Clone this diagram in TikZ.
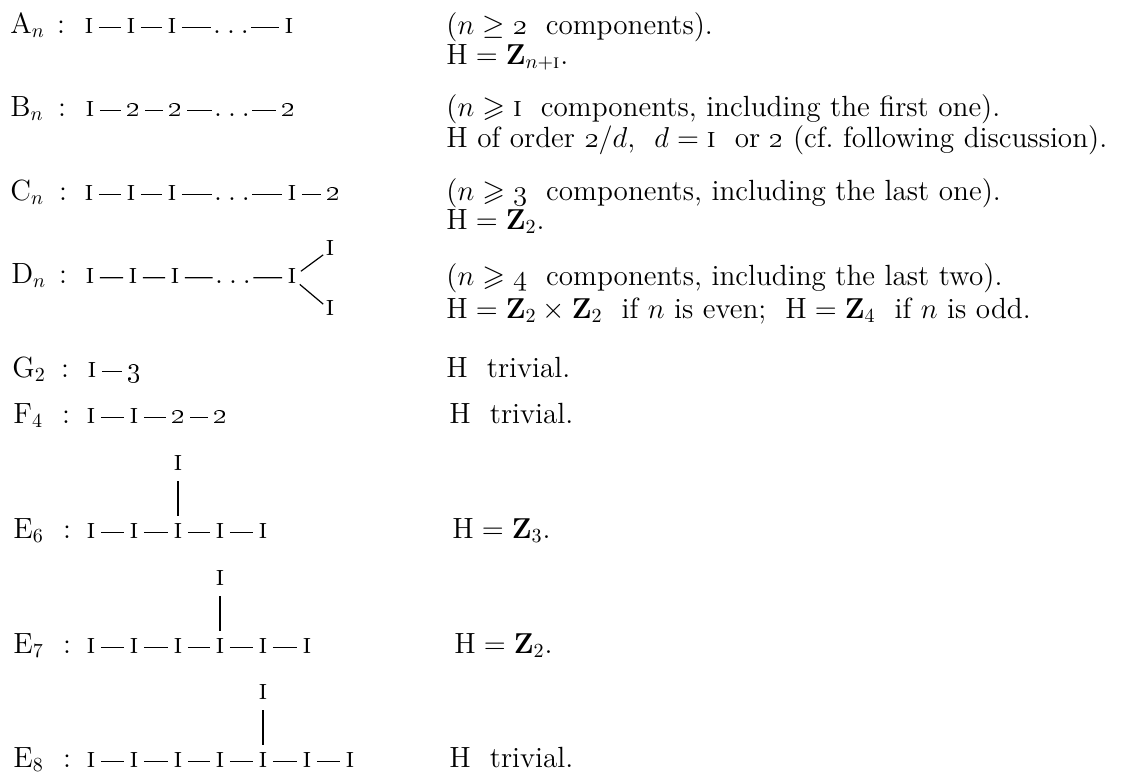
\documentclass[tikz,border=0pt]{standalone}
\usepackage{amsmath,amssymb}
\newcommand{\one}{\textsc{i}}
\newcommand{\onei}{\text{\textsc{i}}}
\newcommand{\osn}[1]{\oldstylenums{#1}}
\newcommand{\dts}{.\hspace{3pt}.\hspace{3pt}.}
\begin{document}
\begin{tikzpicture}[x=0.5pt,y=-0.5pt,
  font=\fontsize{14.6}{17}\selectfont,
  lab/.style={anchor=base west,inner sep=0pt},
  colon/.style={anchor=base,inner sep=0pt},
  txt/.style={anchor=base west,inner sep=0pt},
  vtx/.style={anchor=base,inner xsep=2.5pt,inner ysep=5.5pt,text height=1.2ex,text depth=0pt},
  vtxj/.style={vtx,inner ysep=0.5pt},
  vtxd/.style={vtx,inner ysep=0.5pt,inner xsep=1pt},
  dotsn/.style={vtx,inner xsep=1pt},
  edge/.style={line width=0.6pt}]
\useasboundingbox (0,0) rectangle (1125,778);

% ---------- A_n
\node[lab] (lA) at (10,33) {A$_n$};
\node[colon] (cA) at (61,33) {:};
\node[vtx] (a1) at (89,33) {\one};
\node[vtx] (a2) at (131,33) {\one};
\node[vtx] (a3) at (172,33) {\one};
\node[dotsn] (a4) at (231,33) {\dts};
\node[vtx] (a5) at (289,33) {\one};
\draw[edge] (a1)--(a2) (a2)--(a3) (a3)--(a4) (a4)--(a5);
\node[txt] (tA1) at (446,34) {($n\geq\osn{2}$\ \ components).};
\node[txt] (tA2) at (446,64) {H${}=\mathbf{Z}_{n+\onei}$.};

% ---------- B_n
\node[lab] (lB) at (10,116) {B$_n$};
\node[colon] (cB) at (62,116) {:};
\node[vtx] (b1) at (90,116) {\one};
\node[vtx] (b2) at (133,116) {\osn{2}};
\node[vtx] (b3) at (175,116) {\osn{2}};
\node[dotsn] (b4) at (232,116) {\dts};
\node[vtx] (b5) at (288,116) {\osn{2}};
\draw[edge] (b1)--(b2) (b2)--(b3) (b3)--(b4) (b4)--(b5);
\node[txt] (tB1) at (446,116) {($n\geqslant\onei$\ \ components, including the first one).};
\node[txt] (tB2) at (446,147) {H of order $\osn{2}/d$,\ \ $d=\onei$\ \ or \osn{2} (cf.\ following discussion).};

% ---------- C_n
\node[lab] (lC) at (10,200) {C$_n$};
\node[colon] (cC) at (63,200) {:};
\node[vtx] (c1) at (89,200) {\one};
\node[vtx] (c2) at (131,200) {\one};
\node[vtx] (c3) at (172,200) {\one};
\node[dotsn] (c4) at (232,200) {\dts};
\node[vtx] (c5) at (292,200) {\one};
\node[vtx] (c6) at (333,200) {\osn{2}};
\draw[edge] (c1)--(c2) (c2)--(c3) (c3)--(c4) (c4)--(c5) (c5)--(c6);
\node[txt] (tC1) at (446,200) {($n\geqslant\osn{3}$\ \ components, including the last one).};
\node[txt] (tC2) at (446,229) {H${}=\mathbf{Z}_2$.};

% ---------- D_n
\node[lab] (lD) at (11,283) {D$_n$};
\node[colon] (cD) at (63,283) {:};
\node[vtx] (d1) at (90,283) {\one};
\node[vtx] (d2) at (133,283) {\one};
\node[vtx] (d3) at (175,283) {\one};
\node[dotsn] (d4) at (233,283) {\dts};
\node[vtxj] (d5) at (292,283) {\one};
\node[vtxd] (du) at (330,255) {\one};
\node[vtxd] (dl) at (330,315) {\one};
\draw[edge] (d1)--(d2) (d2)--(d3) (d3)--(d4) (d4)--(d5) (d5)--(du) (d5)--(dl);
\node[txt] (tD1) at (446,285) {($n\geqslant\osn{4}$\ \ components, including the last two).};
\node[txt] (tD2) at (446,318) {H${}=\mathbf{Z}_2\times\mathbf{Z}_2$\ \ if $n$ is even;\ \ H${}=\mathbf{Z}_4$\ \ if $n$ is odd.};

% ---------- G_2
\node[lab] (lG) at (12,377) {G$_2$};
\node[colon] (cG) at (65,377) {:};
\node[vtx] (g1) at (92,377) {\one};
\node[vtx] (g2) at (134,377) {\osn{3}};
\draw[edge] (g1)--(g2);
\node[txt] (tG) at (446,377) {H\ \ trivial.};

% ---------- F_4
\node[lab] (lF) at (13,423) {F$_4$};
\node[colon] (cF) at (66,423) {:};
\node[vtx] (f1) at (91,423) {\one};
\node[vtx] (f2) at (134,423) {\one};
\node[vtx] (f3) at (178,423) {\osn{2}};
\node[vtx] (f4) at (220,423) {\osn{2}};
\draw[edge] (f1)--(f2) (f2)--(f3) (f3)--(f4);
\node[txt] (tF) at (449,423) {H\ \ trivial.};

% ---------- E_6
\node[lab] (lE6) at (13,538) {E$_6$};
\node[colon] (cE6) at (67,538) {:};
\node[vtx] (e61) at (91,538) {\one};
\node[vtx] (e62) at (134,538) {\one};
\node[vtx] (e63) at (178,538) {\one};
\node[vtx] (e64) at (220,538) {\one};
\node[vtx] (e65) at (263,538) {\one};
\node[vtx] (e6t) at (178,470) {\one};
\draw[edge] (e61)--(e62) (e62)--(e63) (e63)--(e64) (e64)--(e65) (e6t)--(e63);
\node[txt] (tE6) at (452,538) {H${}=\mathbf{Z}_3$.};

% ---------- E_7
\node[lab] (lE7) at (13,653) {E$_7$};
\node[colon] (cE7) at (67,653) {:};
\node[vtx] (e71) at (91,653) {\one};
\node[vtx] (e72) at (134,653) {\one};
\node[vtx] (e73) at (178,653) {\one};
\node[vtx] (e74) at (220,653) {\one};
\node[vtx] (e75) at (263,653) {\one};
\node[vtx] (e76) at (307,653) {\one};
\node[vtx] (e7t) at (220,585) {\one};
\draw[edge] (e71)--(e72) (e72)--(e73) (e73)--(e74) (e74)--(e75) (e75)--(e76) (e7t)--(e74);
\node[txt] (tE7) at (454,653) {H${}=\mathbf{Z}_2$.};

% ---------- E_8
\node[lab] (lE8) at (13,767) {E$_8$};
\node[colon] (cE8) at (67,767) {:};
\node[vtx] (e81) at (91,767) {\one};
\node[vtx] (e82) at (134,767) {\one};
\node[vtx] (e83) at (178,767) {\one};
\node[vtx] (e84) at (220,767) {\one};
\node[vtx] (e85) at (263,767) {\one};
\node[vtx] (e86) at (307,767) {\one};
\node[vtx] (e87) at (350,767) {\one};
\node[vtx] (e8t) at (263,699) {\one};
\draw[edge] (e81)--(e82) (e82)--(e83) (e83)--(e84) (e84)--(e85) (e85)--(e86) (e86)--(e87) (e8t)--(e85);
\node[txt] (tE8) at (449,767) {H\ \ trivial.};
\end{tikzpicture}
\end{document}
